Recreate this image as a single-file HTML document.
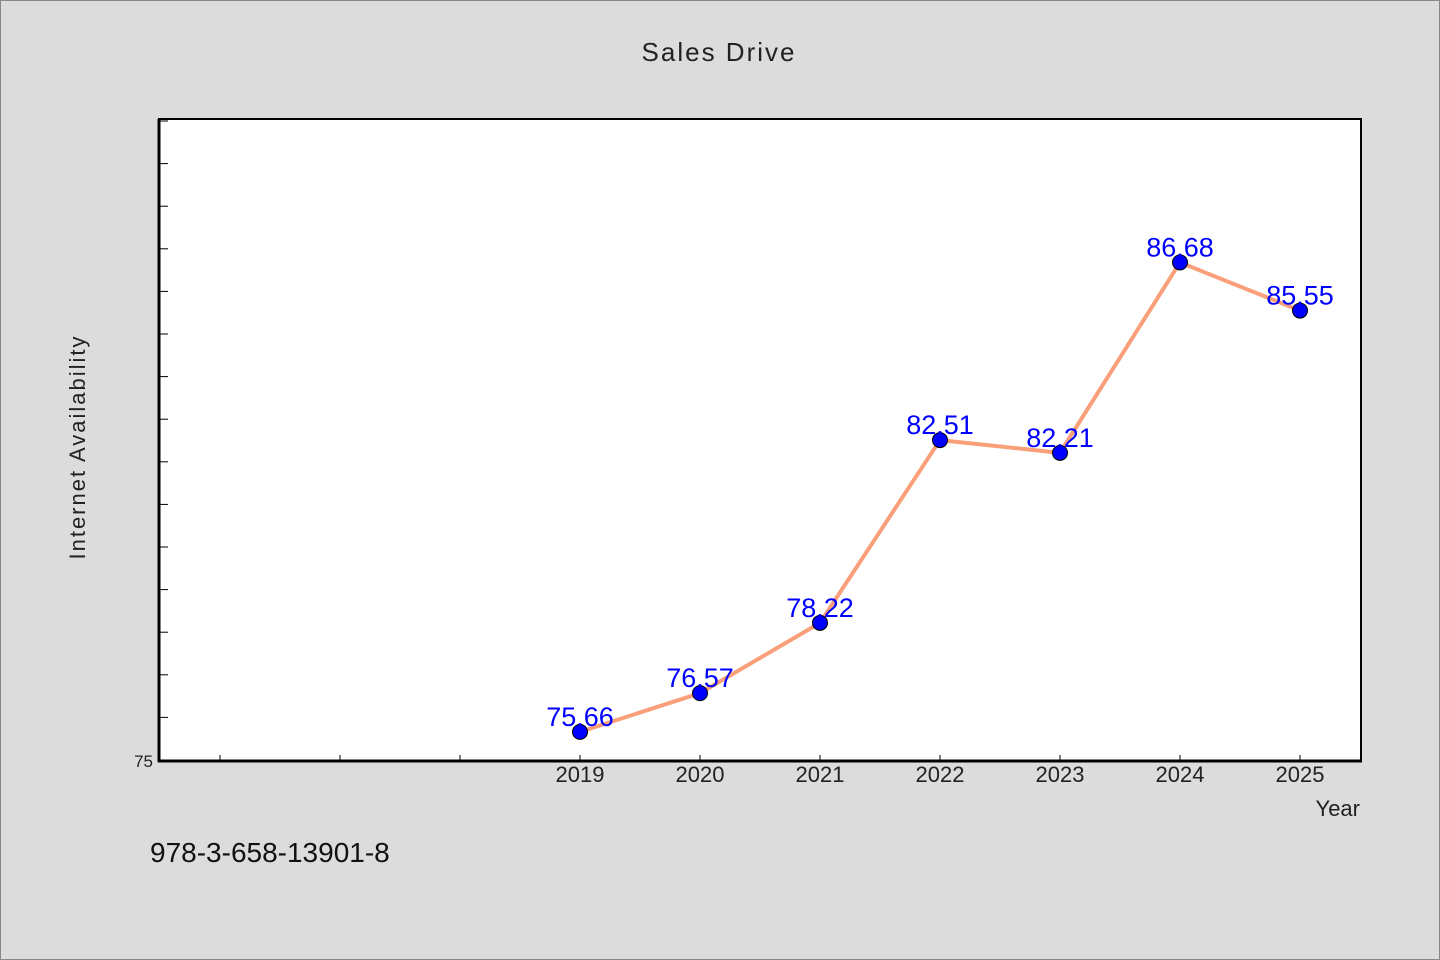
<!DOCTYPE html>
<html><head><meta charset="utf-8"><style>
body{margin:0;background:#dcdcdc;}
svg{display:block;font-family:"WenQuanYi Zen Hei","Liberation Sans",sans-serif;}
</style></head><body>
<svg width="1440" height="960">
<rect x="0.5" y="0.5" width="1439" height="959" fill="#dcdcdc" stroke="#888"/>
<text x="719" y="61" text-anchor="middle" font-size="26" fill="#222" letter-spacing="2">Sales Drive</text>
<rect x="159" y="119" width="1202" height="642" fill="#fff" stroke="#000" stroke-width="2"/>
<g id="ticks"></g>
<line x1="159" y1="119" x2="159" y2="762" stroke="#000" stroke-width="3"/>
<line x1="158" y1="761" x2="1362" y2="761" stroke="#000" stroke-width="3"/>
<text x="153" y="767" text-anchor="end" font-size="17" fill="#222">75</text>
<text transform="translate(85,447) rotate(-90)" text-anchor="middle" font-size="22" fill="#222" letter-spacing="2">Internet Availability</text>
<text x="1360" y="816" text-anchor="end" font-size="22" fill="#222">Year</text>
<text x="150" y="862" font-size="28" fill="#111">978-3-658-13901-8</text>
<g id="series"></g>
</svg>
<script>
const years=[2019,2020,2021,2022,2023,2024,2025];
const values=[75.66,76.57,78.22,82.51,82.21,86.68,85.55];
const labels=["75.66","76.57","78.22","82.51","82.21","86.68","85.55"];
const yTicks=[75,76,77,78,79,80,81,82,83,84,85,86,87,88,89,90];
const xTicks=[2016,2017,2018,2019,2020,2021,2022,2023,2024,2025];
const NS="http://www.w3.org/2000/svg";
const x=v=>580+(v-2019)*120;
const y=v=>760-(v-75)*42.6;
function mk(t,a,p){const e=document.createElementNS(NS,t);for(const k in a)e.setAttribute(k,a[k]);p.appendChild(e);return e;}
const tg=document.getElementById('ticks');
yTicks.forEach(v=>{if(v===75||y(v)<120)return;const l=mk('line',{x1:159,x2:168,y1:y(v),y2:y(v),stroke:'#000','stroke-width':1},tg);

});
xTicks.forEach(v=>{const l=mk('line',{x1:x(v),x2:x(v),y1:761,y2:755,stroke:'#000','stroke-width':1},tg);


if(v>=2019){const t=mk('text',{x:x(v),y:782,'text-anchor':'middle','font-size':22,fill:'#222'},tg);t.textContent=v;

}});
const sg=document.getElementById('series');
const pl=mk('polyline',{points:years.map((d,i)=>x(d)+','+y(values[i])).join(' '),fill:'none',stroke:'#f9a07a','stroke-width':4},sg);


years.forEach((d,i)=>{const c=mk('circle',{cx:x(d),cy:y(values[i]),r:7.5,fill:'#0000ff',stroke:'#000','stroke-width':1},sg);


const t=mk('text',{x:x(d),y:y(values[i])-6,'text-anchor':'middle','font-size':27,fill:'#0000ff'},sg);t.textContent=labels[i];

});
</script>
</body></html>
